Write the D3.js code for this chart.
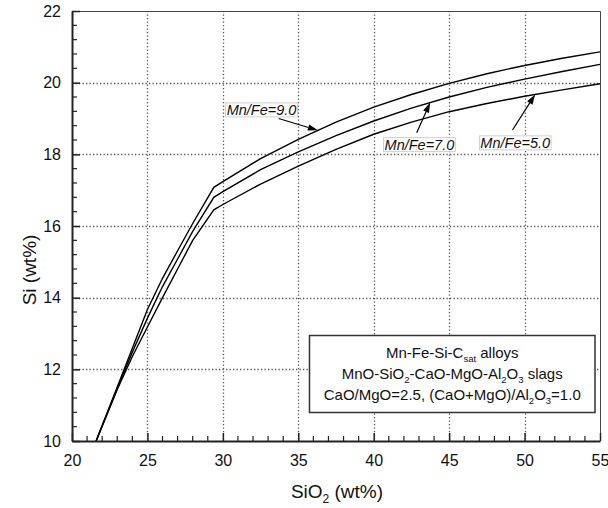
<!DOCTYPE html>
<html>
<head>
<meta charset="utf-8">
<script src="https://cdn.jsdelivr.net/npm/d3@7"></script>
<style>
  body { margin: 0; background: #fff; }
  svg { display: block; }
  text { font-family: "Liberation Sans", Arial, sans-serif; fill: #111; }
</style>
</head>
<body>
<svg id="chart" width="608" height="508"></svg>
<script>
// SiO2 content of the slag (wt%)
const sio2 = [21.6, 22, 23, 24, 25, 26, 27, 28, 29.4, 30, 32.5, 35, 37.5, 40, 42.5, 45, 47.5, 50, 52.5, 55];
// Si content of the alloy (wt%) for each Mn/Fe ratio
const siMnFe9 = [10, 10.43, 11.51, 12.59, 13.67, 14.54, 15.31, 16.07, 17.08, 17.24, 17.88, 18.42, 18.9, 19.32, 19.67, 19.98, 20.25, 20.48, 20.68, 20.86];
const siMnFe7 = [10, 10.42, 11.47, 12.48, 13.43, 14.31, 15.08, 15.85, 16.8, 16.96, 17.57, 18.07, 18.52, 18.93, 19.29, 19.6, 19.87, 20.1, 20.31, 20.51];
const siMnFe5 = [10, 10.41, 11.44, 12.36, 13.18, 14.0, 14.8, 15.6, 16.45, 16.6, 17.17, 17.67, 18.14, 18.56, 18.9, 19.19, 19.42, 19.62, 19.8, 19.97];
const seriesNames = ["Mn/Fe=9.0", "Mn/Fe=7.0", "Mn/Fe=5.0"];
const seriesValues = [siMnFe9, siMnFe7, siMnFe5];
// where each arrow meets its curve (SiO2 wt%)
const arrowTipSio2 = [36.3, 43.74, 50.7];

const xTicks = [20, 25, 30, 35, 40, 45, 50, 55];
const yTicks = [10, 12, 14, 16, 18, 20, 22];

const svg = d3.select("#chart");
const plot = { left: 72, right: 600, top: 11, bottom: 441 };

const x = d3.scaleLinear().domain([20, 55]).range([plot.left, plot.right]);
const y = d3.scaleLinear().domain([10, 22]).range([plot.bottom, plot.top]);

// dotted grid at the major ticks
const grid = svg.append("g");
grid.selectAll("line.gx").data(xTicks.slice(1, -1)).join("line").attr("class", "gx")
  .attr("x1", d => Math.round(x(d)) + 0.5).attr("x2", d => Math.round(x(d)) + 0.5)
  .attr("y1", plot.top).attr("y2", plot.bottom);
grid.selectAll("line.gy").data(yTicks.slice(1, -1)).join("line").attr("class", "gy")
  .attr("y1", d => Math.round(y(d)) + 0.5).attr("y2", d => Math.round(y(d)) + 0.5)
  .attr("x1", plot.left).attr("x2", plot.right);
grid.selectAll("line").attr("stroke", "#555").attr("stroke-width", 1.3).attr("stroke-dasharray", "1.3,2.2");

// top and right frame
svg.append("path")
  .attr("d", `M${plot.left},${plot.top + 0.5}H${plot.right + 0.5}V${plot.bottom}`)
  .attr("fill", "none").attr("stroke", "#444").attr("stroke-width", 1);

// curves
const line = d3.line().x(d => x(d[0])).y(d => y(d[1]));
svg.append("g").selectAll("path").data(seriesValues).join("path")
  .attr("d", vals => line(sio2.map((s, i) => [s, vals[i]])))
  .attr("fill", "none").attr("stroke", "#000").attr("stroke-width", 1.4)
  .attr("stroke-linejoin", "miter");

// axes with inward ticks
const xAxis = d3.axisBottom(x).tickValues(xTicks).tickSizeInner(-8).tickSizeOuter(0).tickPadding(14).tickFormat(d3.format("d"));
const gx = svg.append("g").attr("transform", `translate(0,${plot.bottom})`).call(xAxis);
const xMinor = d3.range(21, 55, 1).filter(v => v % 5 !== 0);
gx.selectAll("line.minor").data(xMinor).join("line").attr("class", "minor")
  .attr("x1", d => x(d)).attr("x2", d => x(d)).attr("y1", 0).attr("y2", -5);

const yAxis = d3.axisLeft(y).tickValues(yTicks).tickSizeInner(-8).tickSizeOuter(0).tickPadding(11).tickFormat(d3.format("d"));
const gy = svg.append("g").attr("transform", `translate(${plot.left},0)`).call(yAxis);
const yMinor = d3.range(10.4, 22, 0.4).filter(v => Math.abs(v / 2 - Math.round(v / 2)) > 0.01);
gy.selectAll("line.minor").data(yMinor).join("line").attr("class", "minor")
  .attr("y1", d => y(d)).attr("y2", d => y(d)).attr("x1", 0).attr("x2", 5);

[gx, gy].forEach(g => {
  g.select(".domain").attr("stroke", "#222").attr("stroke-width", 2);
  g.selectAll(".tick line").attr("stroke", "#222").attr("stroke-width", 1.5);
  g.selectAll("line.minor").attr("stroke", "#222").attr("stroke-width", 1.2);
  g.selectAll(".tick text").attr("font-size", 16).attr("fill", "#111")
    .attr("font-family", "Liberation Sans, Arial, sans-serif");
});

// axis titles
const xt = svg.append("text").attr("x", 337).attr("y", 498)
  .attr("text-anchor", "middle").attr("font-size", 19);
xt.append("tspan").text("SiO");
xt.append("tspan").text("2").attr("font-size", 12).attr("dy", 5);
xt.append("tspan").text(" (wt%)").attr("dy", -5);

svg.append("text").attr("transform", "translate(36,270) rotate(-90)")
  .attr("text-anchor", "middle").attr("font-size", 19).text("Si (wt%)");

// curve labels with arrows
const labelLayout = [
  { tx: 30.25, ty: 19.1, tail: [33.7, 19.0] },
  { tx: 40.72, ty: 18.13, tail: [42.85, 18.6] },
  { tx: 47.07, ty: 18.18, tail: [49.2, 18.68] }
];
const ann = svg.append("g");
seriesNames.forEach((name, i) => {
  const L = labelLayout[i];
  const g = ann.append("g");
  const t = g.append("text").attr("x", x(L.tx)).attr("y", y(L.ty))
    .attr("font-size", 14.5).attr("font-style", "italic").text(name);
  const bb = t.node().getBBox();
  g.insert("rect", "text").attr("x", bb.x - 1).attr("y", bb.y + 1)
    .attr("width", bb.width + 2).attr("height", bb.height - 2)
    .attr("fill", "#fff").attr("stroke", "#c4c4c4").attr("stroke-width", 0.8);

  // arrow from label to its curve
  const tipX = arrowTipSio2[i];
  const tipY = d3.scaleLinear().domain(sio2).range(seriesValues[i])(tipX);
  const x0 = x(L.tail[0]), y0 = y(L.tail[1]);
  const x1 = x(tipX), y1 = y(tipY);
  const ang = Math.atan2(y1 - y0, x1 - x0);
  const hl = 10, hw = 3.2;
  const bx = x1 - hl * Math.cos(ang), by = y1 - hl * Math.sin(ang);
  g.append("line").attr("x1", x0).attr("y1", y0).attr("x2", bx).attr("y2", by)
    .attr("stroke", "#000").attr("stroke-width", 1.2);
  g.append("path")
    .attr("d", `M${x1},${y1}L${bx + hw * Math.sin(ang)},${by - hw * Math.cos(ang)}L${bx - hw * Math.sin(ang)},${by + hw * Math.cos(ang)}Z`)
    .attr("fill", "#000");
});

// conditions box
const box = { x: 309.5, y: 335.5, w: 285.5, h: 77 };
svg.append("rect").attr("x", box.x).attr("y", box.y).attr("width", box.w).attr("height", box.h)
  .attr("fill", "#fff").attr("stroke", "#333").attr("stroke-width", 1.5);
const cx = box.x + box.w / 2;
const fs = 15, sub = 9.5, sh = 4;

const l1 = svg.append("text").attr("x", cx).attr("y", 358).attr("text-anchor", "middle").attr("font-size", fs);
l1.append("tspan").text("Mn-Fe-Si-C");
l1.append("tspan").text("sat").attr("font-size", sub).attr("dy", sh);
l1.append("tspan").text(" alloys").attr("dy", -sh);

const l2 = svg.append("text").attr("x", cx).attr("y", 379).attr("text-anchor", "middle").attr("font-size", fs);
l2.append("tspan").text("MnO-SiO");
l2.append("tspan").text("2").attr("font-size", sub).attr("dy", sh);
l2.append("tspan").text("-CaO-MgO-Al").attr("dy", -sh);
l2.append("tspan").text("2").attr("font-size", sub).attr("dy", sh);
l2.append("tspan").text("O").attr("dy", -sh);
l2.append("tspan").text("3").attr("font-size", sub).attr("dy", sh);
l2.append("tspan").text(" slags").attr("dy", -sh);

const l3 = svg.append("text").attr("x", cx).attr("y", 400).attr("text-anchor", "middle").attr("font-size", fs);
l3.append("tspan").text("CaO/MgO=2.5, (CaO+MgO)/Al");
l3.append("tspan").text("2").attr("font-size", sub).attr("dy", sh);
l3.append("tspan").text("O").attr("dy", -sh);
l3.append("tspan").text("3").attr("font-size", sub).attr("dy", sh);
l3.append("tspan").text("=1.0").attr("dy", -sh);
</script>
</body>
</html>
